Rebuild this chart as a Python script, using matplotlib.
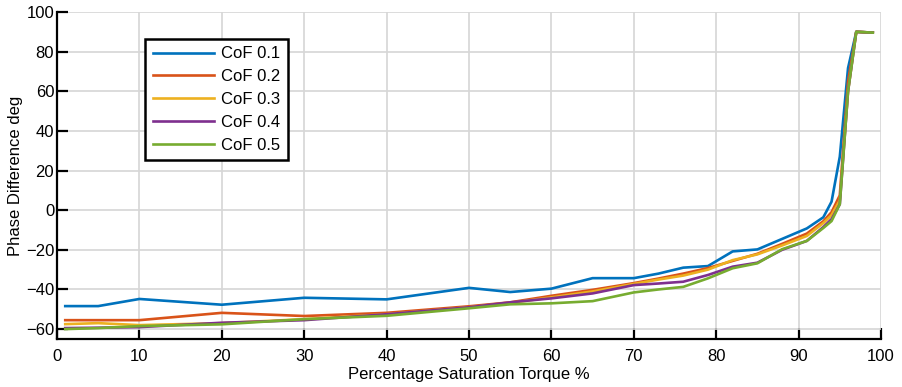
import matplotlib
matplotlib.use("Agg")
import matplotlib.pyplot as plt

plt.rcParams['font.family'] = ['Liberation Sans', 'DejaVu Sans']

x_pct = [1, 5, 10, 20, 30, 40, 50, 55, 60, 65, 70, 73, 76, 79, 82, 85, 88, 91, 93, 94, 95, 96, 97, 99]

cof_01 = [-48.4, -48.4, -44.8, -47.7, -44.2, -45.0, -39.2, -41.3, -39.6, -34.3, -34.3, -32.0, -29.0, -28.2, -20.8, -19.8, -14.5, -9.2, -3.6, 4.3, 27.0, 71.7, 90.0, 89.6]
cof_02 = [-55.5, -55.5, -55.5, -51.8, -53.4, -51.8, -48.5, -46.5, -43.2, -40.2, -36.8, -34.5, -32.0, -29.2, -25.6, -22.0, -17.0, -11.8, -5.6, -1.0, 7.5, 65.0, 90.0, 89.6]
cof_03 = [-57.5, -57.0, -58.0, -57.0, -55.0, -52.5, -49.0, -46.8, -44.0, -41.0, -37.2, -35.0, -33.0, -30.0, -25.2, -22.3, -17.8, -13.0, -6.5, -2.5, 5.0, 60.0, 90.0, 89.6]
cof_04 = [-59.5, -59.3, -59.0, -56.8, -55.5, -52.5, -49.0, -46.5, -44.5, -42.0, -37.8, -37.0, -36.1, -32.7, -28.5, -26.5, -20.0, -15.5, -8.5, -4.5, 3.0, 60.0, 90.0, 89.6]
cof_05 = [-60.0, -59.5, -58.5, -57.6, -55.0, -53.3, -49.5, -47.5, -47.0, -45.9, -41.5, -40.0, -38.7, -34.4, -29.3, -26.8, -19.7, -15.5, -9.0, -5.5, 3.0, 60.0, 90.0, 89.6]

series = [cof_01, cof_02, cof_03, cof_04, cof_05]
labels = ['CoF 0.1', 'CoF 0.2', 'CoF 0.3', 'CoF 0.4', 'CoF 0.5']
colors = ['#0072BD', '#D95319', '#EDB120', '#7E2F8E', '#77AC30']

x_ticks = [0, 10, 20, 30, 40, 50, 60, 70, 80, 90, 100]
y_ticks = [-60, -40, -20, 0, 20, 40, 60, 80, 100]

fig = plt.figure(figsize=(9.02, 3.87), dpi=100)
ax = fig.add_axes([57/902, 48/387, (881-57)/902, (339-12)/387])

for ys, lab, c in zip(series, labels, colors):
    ax.plot(x_pct, ys, color=c, lw=1.9, label=lab)

ax.set_xlim(0, 100)
ax.set_ylim(-65, 100)
ax.set_xticks(x_ticks)
ax.set_yticks(y_ticks)
ax.grid(True, color='#d6d6d6', lw=1.2)
ax.set_axisbelow(True)
for s in ['top', 'right']:
    ax.spines[s].set_visible(False)
for s in ['left', 'bottom']:
    ax.spines[s].set_linewidth(1.6)
ax.tick_params(direction='in', length=8, width=1.6, labelsize=12, colors='black')
ax.tick_params(axis='x', pad=7)
ax.tick_params(axis='y', pad=2)
ax.set_xlabel('Percentage Saturation Torque %', fontsize=12, labelpad=2)
ax.set_ylabel('Phase Difference deg', fontsize=12, labelpad=2)

leg = ax.legend(loc='upper left', bbox_to_anchor=((145-57)/824, (339-39)/327),
                fontsize=12, frameon=True, fancybox=False, handlelength=3.7,
                borderpad=0.45, labelspacing=0.47, handletextpad=0.4, borderaxespad=0)
leg.get_frame().set_edgecolor('black')
leg.get_frame().set_linewidth(1.8)
leg.get_frame().set_alpha(1)

fig.savefig('out.png', dpi=100)
